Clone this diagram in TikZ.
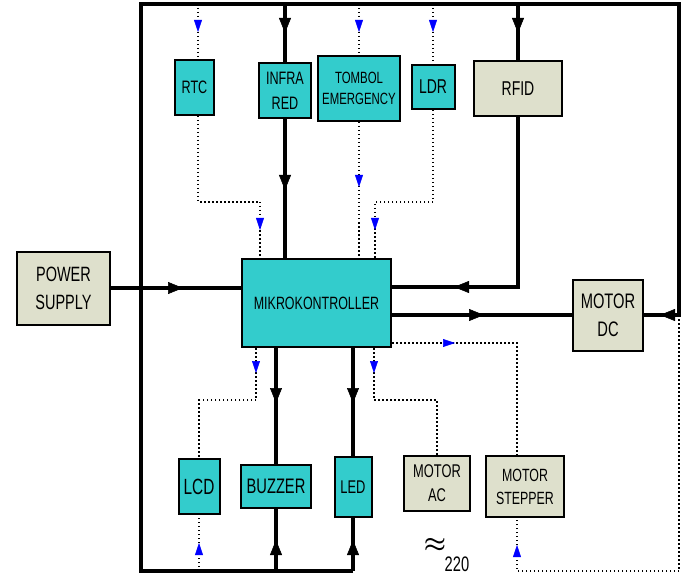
\documentclass[tikz,border=0pt]{standalone}
\usepackage{fontspec}
\setmainfont[FakeStretch=0.7]{Liberation Sans}
\usetikzlibrary{arrows.meta,decorations.markings}
\definecolor{cy}{HTML}{33CCCC}
\definecolor{bg}{HTML}{DEE0CC}
\newcommand\fsz[2]{\fontsize{#1pt}{#2pt}\selectfont}
\tikzset{
  box/.style={draw=black, line width=2pt, inner sep=0pt, align=center, text=black},
  cbox/.style={box, fill=cy},
  gbox/.style={box, fill=bg},
  solidline/.style={line width=3.2pt, line join=miter},
  dotline/.style={line width=1.5pt, dash pattern=on 1.5pt off 2.5pt},
  barr/.style={postaction={decorate,decoration={markings,mark=at position #1 with {\arrow{Triangle[width=12pt,length=15pt,line width=0.5pt]}}}}},
  blarr/.style={postaction={decorate,decoration={markings,mark=at position #1 with {\arrow[blue]{Triangle[width=8pt,length=12pt,line width=0.5pt]}}}}},
}
\begin{document}
\begin{tikzpicture}[x=1pt,y=-1pt]
\useasboundingbox (0,0) rectangle (686,575);
% nodes
\node[cbox, minimum width=39pt, minimum height=55pt, font=\fsz{18}{23}] (rtc) at (194.5,87.5) {RTC};
\node[cbox, minimum width=52pt, minimum height=55pt, font=\fsz{18}{25}] (ir) at (285,90.5) {INFRA\\RED};
\node[cbox, minimum width=82pt, minimum height=65pt, font=\fsz{16.3}{21}] (tb) at (359,88.5) {TOMBOL\\EMERGENCY};
\node[cbox, minimum width=43pt, minimum height=44pt, font=\fsz{20}{24}] (ldr) at (433,87) {LDR};
\node[gbox, minimum width=88pt, minimum height=55pt, font=\fsz{20}{24}] (rfid) at (518,88.5) {RFID};
\node[gbox, minimum width=93pt, minimum height=73pt, font=\fsz{20.7}{28}] (ps) at (63.5,288) {POWER\\SUPPLY};
\node[cbox, minimum width=149pt, minimum height=88pt, font=\fsz{17.8}{22}] (mk) at (316.5,303) {MIKROKONTROLLER};
\node[gbox, minimum width=70pt, minimum height=71pt, font=\fsz{21}{28}] (dc) at (608,315) {MOTOR\\DC};
\node[cbox, minimum width=41pt, minimum height=55pt, font=\fsz{22}{26}] (lcd) at (199,486.5) {LCD};
\node[cbox, minimum width=70pt, minimum height=43pt, font=\fsz{21}{25}] (bz) at (276,486.5) {BUZZER};
\node[cbox, minimum width=37pt, minimum height=60pt, font=\fsz{18.4}{22}] (led) at (353,487) {LED};
\node[gbox, minimum width=66pt, minimum height=55pt, font=\fsz{18.4}{24}] (ac) at (437,483.5) {MOTOR\\AC};
\node[gbox, minimum width=78pt, minimum height=61pt, font=\fsz{17.7}{23}] (st) at (525,486.5) {MOTOR\\STEPPER};
\node[font=\fsz{28}{28}\boldmath, inner sep=0pt] (approx) at (435,545) {$\approx$};
\node[font=\fsz{21}{21}, inner sep=0pt] (v220) at (457,564) {220};
% coordinates
\coordinate (fTL) at (141,4);
\coordinate (fTR) at (679,4);
\coordinate (fBL) at (141,571);
\coordinate (fR) at (679,315);
\coordinate (fBR) at (679,571);
\coordinate (yTop) at (0,4);
\coordinate (yBot) at (0,571);
\coordinate (yUp) at (0,202);
\coordinate (yLow) at (0,400);
\coordinate (yRF) at (0,287);
\coordinate (yDC) at (0,315);
\coordinate (ySt) at (0,343);
\coordinate (xRTC) at (198,0);
\coordinate (xRTCin) at (260,0);
\coordinate (xLDRin) at (375,0);
\coordinate (xLCDout) at (256,0);
\coordinate (xACout) at (374,0);
\coordinate (xST) at (517,0);
% frame
\draw[solidline, barr=-16pt] (led.south |- yBot) -- (fBL) -- (fTL) -- (fTR) -- (fR) -- (dc.east);
% top inputs
\draw[solidline, barr=29pt] (ir.north |- yTop) -- (ir.north);
\draw[solidline, barr=71pt] (ir.south) -- (ir.south |- mk.north);
\draw[solidline, barr=29pt] (rfid.north |- yTop) -- (rfid.north);
\draw[solidline, barr=-62pt] (rfid.south) -- (rfid.south |- yRF) -- (mk.east |- yRF);
\draw[dotline, blarr=28pt] (xRTC |- yTop) -- (xRTC |- rtc.north);
\draw[dotline, blarr=-28pt] (xRTC |- rtc.south) -- (xRTC |- yUp) -- (xRTCin |- yUp) -- (xRTCin |- mk.north);
\draw[dotline, blarr=28pt] (tb.north |- yTop) -- (tb.north);
\draw[dotline, blarr=65pt] (tb.south) -- (tb.south |- mk.north);
\draw[dotline, blarr=28pt] (ldr.north |- yTop) -- (ldr.north);
\draw[dotline, blarr=-28pt] (ldr.south) -- (ldr.south |- yUp) -- (xLDRin |- yUp) -- (xLDRin |- mk.north);
% power and motor dc
\draw[solidline, barr=72pt] (ps.east) -- (ps.east -| mk.west);
\draw[solidline, barr=92pt] (mk.east |- yDC) -- (dc.west);
% stepper
\draw[dotline, blarr=63pt] (mk.east |- ySt) -- (xST |- ySt) -- (xST |- st.north);
\draw[dotline, blarr=-27pt] (fR) -- (fBR) -- (xST |- yBot) -- (xST |- st.south);
% outputs
\draw[solidline, barr=55pt] (bz.north |- mk.south) -- (bz.north);
\draw[solidline, barr=55pt] (led.north |- mk.south) -- (led.north);
\draw[dotline, blarr=25pt] (xLCDout |- mk.south) -- (xLCDout |- yLow) -- (lcd.north |- yLow) -- (lcd.north);
\draw[dotline, blarr=25pt] (xACout |- mk.south) -- (xACout |- yLow) -- (ac.north |- yLow) -- (ac.north);
% bottom inputs
\draw[solidline, barr=31pt] (bz.south |- yBot) -- (bz.south);
\draw[solidline, barr=31pt] (led.south |- yBot) -- (led.south);
\draw[dotline, blarr=28pt] (lcd.south |- yBot) -- (lcd.south);
\end{tikzpicture}
\end{document}
